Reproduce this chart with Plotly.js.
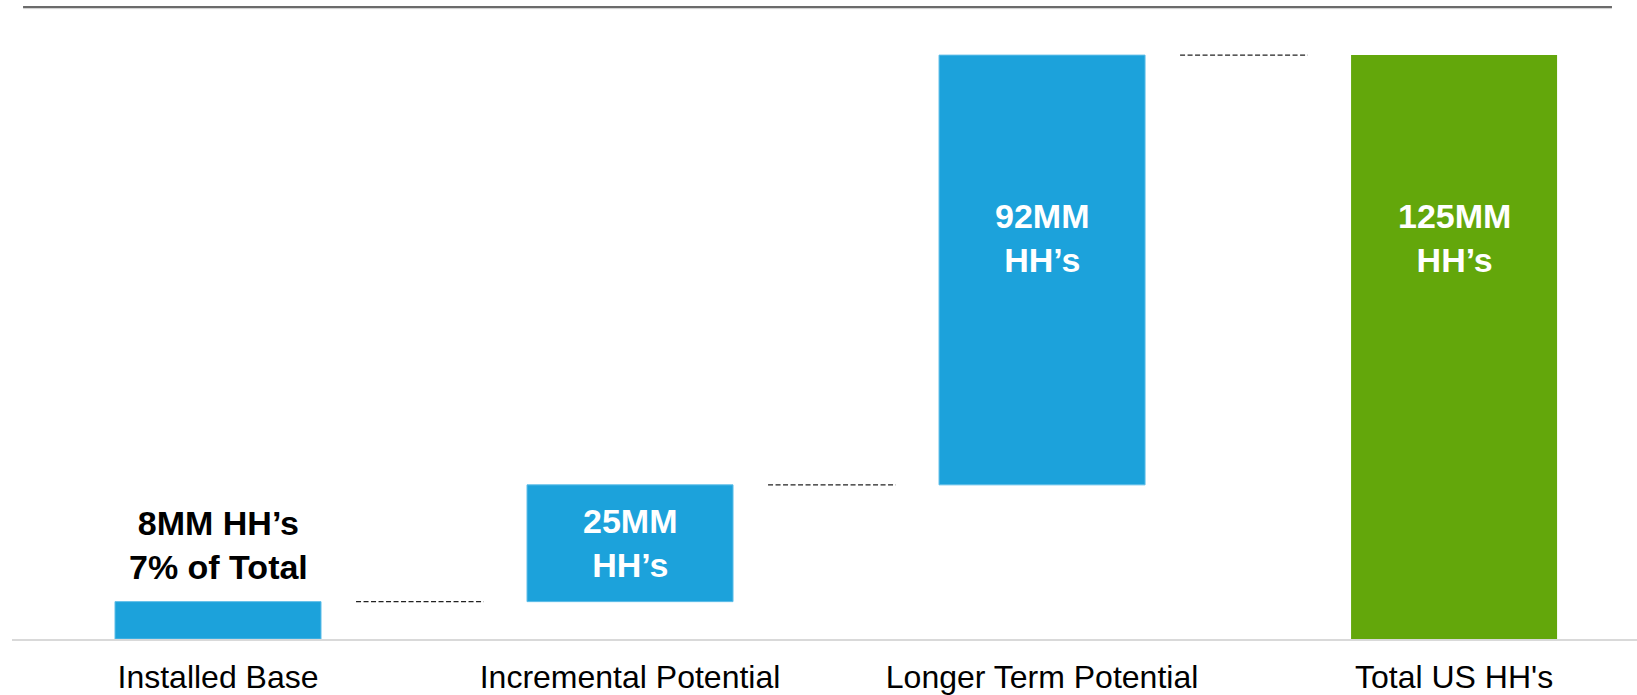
<!DOCTYPE html>
<html>
<head>
<meta charset="utf-8">
<script src="https://cdn.plot.ly/plotly-3.0.1.min.js"></script>
<style>
  html, body { margin: 0; padding: 0; background: #ffffff; }
  #chart { width: 1637px; height: 695px; }
</style>
</head>
<body>
<div id="chart"></div>
<script>
// Household opportunity build-up (millions of US households)
const categories = ["Installed Base", "Incremental Potential", "Longer Term Potential", "Total US HH's"];
const measures = ["relative", "relative", "relative", "total"];
const householdsMM = [8, 25, 92, 125];
const barLabels = ["8MM HH’s<br>7% of Total", "25MM<br>HH’s", "92MM<br>HH’s", "125MM<br>HH’s"];

const BLUE = "#1CA2DB";
const GREEN = "#63A70B";
const FONT = "Liberation Sans, Arial, Helvetica, sans-serif";

// running totals for bar bases / tops
const tops = [];
let run = 0;
householdsMM.forEach((v, i) => {
  if (measures[i] === "total") { tops.push(run); }
  else { run += v; tops.push(run); }
});
const bases = householdsMM.map((v, i) => measures[i] === "total" ? 0 : tops[i] - v);

const trace = {
  type: "waterfall",
  x: categories,
  y: householdsMM.map((v, i) => measures[i] === "total" ? null : v),
  measure: measures,
  width: 0.5,
  increasing: { marker: { color: BLUE, line: { color: "#5DBDE8", width: 1 } } },
  totals: { marker: { color: GREEN, line: { color: GREEN, width: 0 } } },
  connector: { visible: false },
  textinfo: "none",
  hoverinfo: "skip",
  showlegend: false
};

// value labels
const annotations = barLabels.map((txt, i) => {
  const a = {
    x: categories[i], xref: "x", yref: "y",
    text: "<b>" + txt + "</b>",
    showarrow: false,
    font: { family: FONT, size: 34, color: "#ffffff" },
    align: "center"
  };
  if (i === 0) {
    // small bar: label sits above it in black
    a.y = tops[i]; a.yanchor = "bottom"; a.yshift = 14;
    a.font.color = "#000000";
  } else if (tops[i] - bases[i] < 40) {
    a.y = (tops[i] + bases[i]) / 2; a.yanchor = "middle";
  } else {
    a.y = tops[i]; a.yanchor = "middle"; a.yshift = -183;
  }
  return a;
});

// short dashed connectors in the gaps between bars
const shapes = [];
for (let i = 0; i < categories.length - 1; i++) {
  shapes.push({
    type: "line", xref: "x", yref: "y",
    x0: i + 0.335, x1: i + 0.645,
    y0: tops[i], y1: tops[i],
    line: { color: "#222222", width: 1.2, dash: "5px,2.5px" }
  });
}
// header rule
shapes.push({
  type: "line", xref: "paper", yref: "paper",
  x0: 0.0068, x1: 0.9846, y0: 1, y1: 1,
  line: { color: "#3a3a3a", width: 1.5 }
});
shapes.push({
  type: "line", xref: "paper", yref: "paper",
  x0: 0.0068, x1: 0.9846, y0: 0.9975, y1: 0.9975,
  line: { color: "#cfcfcf", width: 1 }
});

const layout = {
  width: 1637, height: 695,
  margin: { l: 12, r: 0, t: 7, b: 56 },
  paper_bgcolor: "#ffffff", plot_bgcolor: "#ffffff",
  xaxis: {
    type: "category",
    range: [-0.5, 3.444],
    showgrid: false, zeroline: false,
    showline: true, linecolor: "#d9d9d9", linewidth: 2,
    ticks: "", ticklabelstandoff: 9,
    tickfont: { family: FONT, size: 32, color: "#000000" },
    fixedrange: true
  },
  yaxis: {
    range: [0, 135.3],
    visible: false, showgrid: false, zeroline: false,
    fixedrange: true
  },
  annotations: annotations,
  shapes: shapes,
  font: { family: FONT }
};

Plotly.newPlot("chart", [trace], layout, { displayModeBar: false, staticPlot: true });
</script>
</body>
</html>
